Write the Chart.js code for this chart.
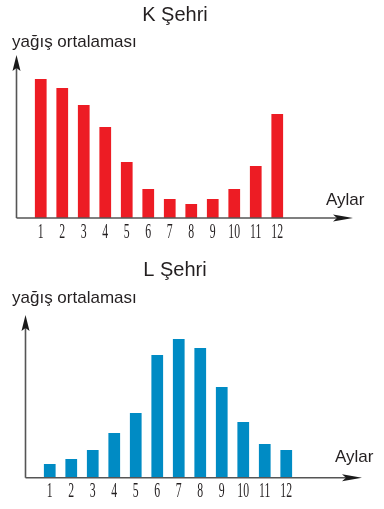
<!DOCTYPE html>
<html>
<head>
<meta charset="utf-8">
<script src="https://cdn.jsdelivr.net/npm/chart.js@4"></script>
<style>
  html, body { margin:0; padding:0; background:#fff; }
  body { width:384px; height:509px; position:relative; overflow:hidden; }
  .box { position:absolute; left:0; width:384px; }
  canvas { display:block; }
</style>
</head>
<body>
<div class="box" style="top:0;height:250px;"><canvas id="cK" width="384" height="250"></canvas></div>
<div class="box" style="top:250px;height:259px;"><canvas id="cL" width="384" height="259"></canvas></div>
<script>
const months = ['1','2','3','4','5','6','7','8','9','10','11','12'];
const kRain = [139,130,113,91,56,29,19,14,19,29,52,104];
const lRain = [14,19,28,45,65,123,139,130,91,56,34,28];
const kTitle = 'K Şehri';
const lTitle = 'L Şehri';
const yLabel = 'yağış ortalaması';
const xLabel = 'Aylar';

const decor = {
  id: 'decor',
  afterDraw(chart, args, o) {
    const ctx = chart.ctx;
    const xs = chart.scales.x;
    ctx.save();
    // title
    ctx.fillStyle = '#231f20';
    ctx.font = '20px "Liberation Sans", Arial, sans-serif';
    ctx.textAlign = 'center';
    ctx.textBaseline = 'alphabetic';
    ctx.fillText(o.title, o.titleX, o.titleY);
    // y label
    ctx.font = '17px "Liberation Sans", Arial, sans-serif';
    ctx.textAlign = 'left';
    ctx.fillText(yLabel, o.yLabX, o.yLabY);
    // x label
    ctx.fillText(xLabel, o.xLabX, o.xLabY);
    // axes lines
    ctx.strokeStyle = '#555';
    ctx.lineWidth = 1.6;
    ctx.beginPath();
    ctx.moveTo(o.axX, o.axY);
    ctx.lineTo(o.axX, o.yTip + 10);
    ctx.moveTo(o.axX, o.axY);
    ctx.lineTo(o.xTip - 10, o.axY);
    ctx.stroke();
    // arrow heads
    ctx.fillStyle = '#1a1a1a';
    ctx.beginPath();
    ctx.moveTo(o.axX, o.yTip);
    ctx.lineTo(o.axX - 4, o.yTip + 16);
    ctx.lineTo(o.axX, o.yTip + 13);
    ctx.lineTo(o.axX + 4, o.yTip + 16);
    ctx.closePath();
    ctx.fill();
    ctx.beginPath();
    ctx.moveTo(o.xTip, o.axY);
    ctx.lineTo(o.xTip - 20, o.axY - 3.5);
    ctx.lineTo(o.xTip - 16, o.axY);
    ctx.lineTo(o.xTip - 20, o.axY + 3.5);
    ctx.closePath();
    ctx.fill();
    // month tick labels (condensed serif)
    ctx.fillStyle = '#231f20';
    ctx.font = '21px "Liberation Serif", "Times New Roman", serif';
    ctx.textAlign = 'center';
    chart.data.labels.forEach((lab, i) => {
      const x = xs.getPixelForValue(i);
      ctx.save();
      ctx.translate(x, o.tickY);
      ctx.scale(0.56, 1);
      ctx.fillText(lab, 0, 0);
      ctx.restore();
    });
    ctx.restore();
  }
};

function makeChart(id, data, color, pad, ymax, deco) {
  return new Chart(document.getElementById(id), {
    type: 'bar',
    data: {
      labels: months,
      datasets: [{ data: data, backgroundColor: color, borderWidth: 0,
                   barPercentage: 0.545, categoryPercentage: 1 }]
    },
    options: {
      responsive: false,
      animation: false,
      devicePixelRatio: 1,
      layout: { padding: pad },
      scales: {
        x: { display: false },
        y: { display: false, min: 0, max: ymax }
      },
      plugins: { legend: { display: false }, tooltip: { enabled: false }, decor: deco }
    },
    plugins: [decor]
  });
}

makeChart('cK', kRain, '#ed1c24', { left: 30, right: 96, top: 60, bottom: 32 }, 158, {
  title: kTitle, titleX: 175, titleY: 21,
  yLabX: 12, yLabY: 47, xLabX: 326, xLabY: 205,
  axX: 16.5, axY: 218, yTip: 55, xTip: 353, tickY: 238
});
makeChart('cL', lRain, '#008bc4', { left: 39, right: 87, top: 60, bottom: 31 }, 168, {
  title: lTitle, titleX: 175, titleY: 26,
  yLabX: 12, yLabY: 53, xLabX: 335, xLabY: 212,
  axX: 25.5, axY: 227.7, yTip: 65, xTip: 362, tickY: 247
});
</script>
</body>
</html>
